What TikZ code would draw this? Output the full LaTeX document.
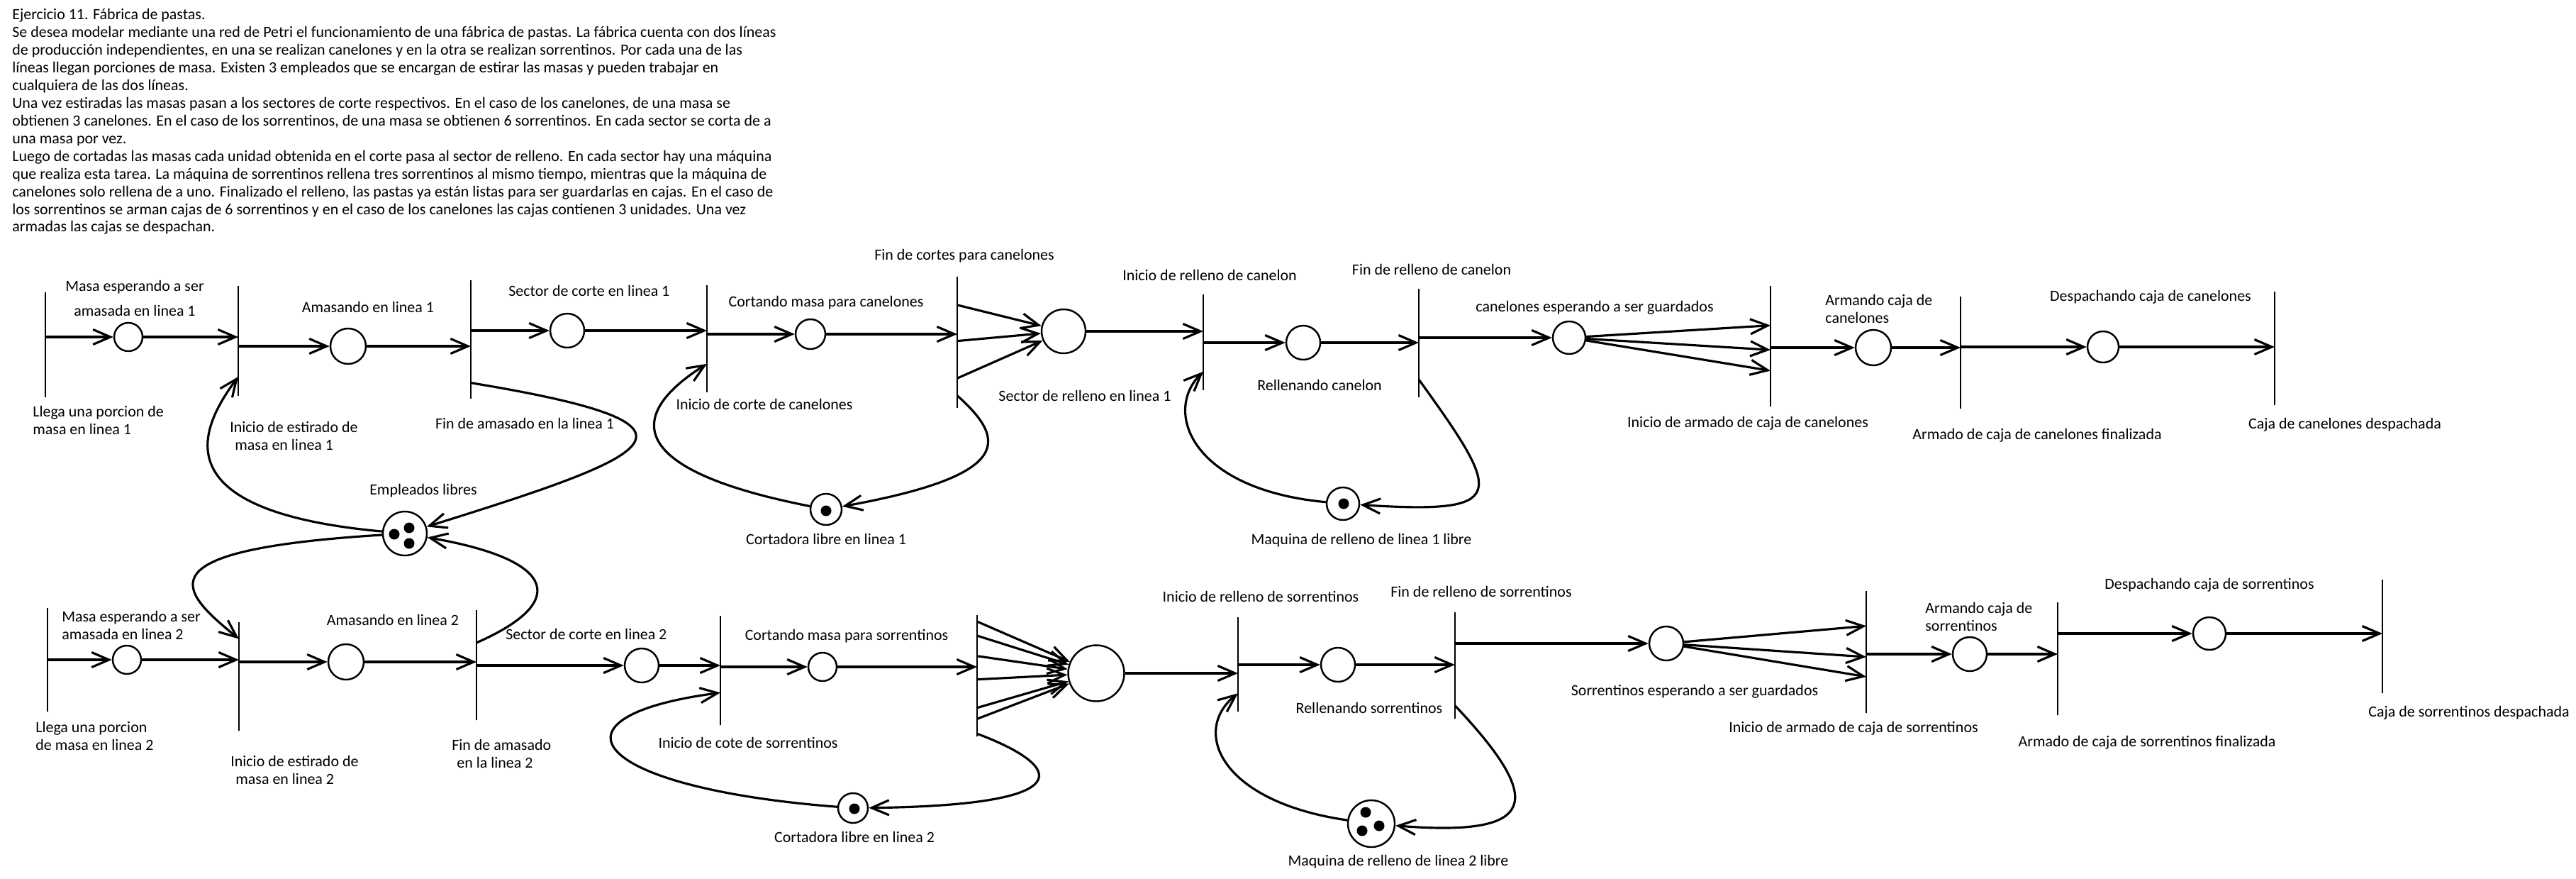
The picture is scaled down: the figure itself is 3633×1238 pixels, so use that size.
\documentclass[tikz,border=0pt]{standalone}
\usepackage{fontspec}
\setmainfont{Carlito}
\usetikzlibrary{arrows.meta,calc}
\tikzset{
  lugar/.style={draw,circle,line width=1.4pt,minimum size=#1,inner sep=0pt},
  trans/.style={draw,line width=1.6pt,minimum width=0pt,minimum height=#1,inner sep=0pt},
  flecha/.style={line width=1.8pt,-{Straight Barb[length=14pt,width=12pt]}},
  etiq/.style={inner sep=0pt,font=\fontsize{12.5}{14.2}\selectfont}
}
\newcommand{\ficha}[2]{\fill ($(#1)+(#2)$) circle [radius=0.15cm];}
\begin{document}
\begin{tikzpicture}[x=0.02cm,y=-0.02cm]
  \useasboundingbox (0,0) rectangle (3633,1238);
  \node [etiq,anchor=north west,align=left] (enunciado) at (17,12) {Ejercicio 11. Fábrica de pastas.\\
Se desea modelar mediante una red de Petri el funcionamiento de una fábrica de pastas. La fábrica cuenta con dos líneas\\
de producción independientes, en una se realizan canelones y en la otra se realizan sorrentinos. Por cada una de las\\
líneas llegan porciones de masa. Existen 3 empleados que se encargan de estirar las masas y pueden trabajar en\\
cualquiera de las dos líneas.\\
Una vez estiradas las masas pasan a los sectores de corte respectivos. En el caso de los canelones, de una masa se\\
obtienen 3 canelones. En el caso de los sorrentinos, de una masa se obtienen 6 sorrentinos. En cada sector se corta de a\\
una masa por vez.\\
Luego de cortadas las masas cada unidad obtenida en el corte pasa al sector de relleno. En cada sector hay una máquina\\
que realiza esta tarea. La máquina de sorrentinos rellena tres sorrentinos al mismo tiempo, mientras que la máquina de\\
canelones solo rellena de a uno. Finalizado el relleno, las pastas ya están listas para ser guardarlas en cajas. En el caso de\\
los sorrentinos se arman cajas de 6 sorrentinos y en el caso de los canelones las cajas contienen 3 unidades. Una vez\\
armadas las cajas se despachan.};

  \node [trans=2.96cm] (t1) at (64,486) {};
  \node [trans=3.1cm] (t2) at (336,480.5) {};
  \node [trans=3.34cm] (t3) at (664,478.5) {};
  \node [trans=3.02cm] (t4) at (997,477.5) {};
  \node [trans=3.7cm] (t5) at (1350,482.5) {};
  \node [trans=2.7cm] (t6) at (1697,482.5) {};
  \node [trans=3.06cm] (t7) at (2001,483.5) {};
  \node [trans=3.4cm] (t8) at (2497,488) {};
  \node [trans=3.16cm] (t9) at (2765,497) {};
  \node [trans=3.2cm] (t10) at (3208,491) {};
  \node [lugar=0.8cm] (p1) at (181,475) {};
  \node [lugar=1cm] (p2) at (491,488) {};
  \node [lugar=0.96cm] (p3) at (800,466) {};
  \node [lugar=0.84cm] (p4) at (1143,471) {};
  \node [lugar=1.24cm] (p5) at (1500,467) {};
  \node [lugar=0.96cm] (p6) at (1838,483) {};
  \node [lugar=0.92cm] (p7) at (2213,476) {};
  \node [lugar=1cm] (p8) at (2642,490) {};
  \node [lugar=0.88cm] (p9) at (2966,489) {};
  \node [lugar=1.24cm] (emp) at (571,752) {};
  \node [lugar=0.88cm] (cort1) at (1165,718) {};
  \node [lugar=0.92cm] (maq1) at (1894,710) {};

  \node [trans=2.92cm] (u1) at (67,930) {};
  \node [trans=3.06cm] (u2) at (337,953.5) {};
  \node [trans=3.1cm] (u3) at (672,937.5) {};
  \node [trans=3.08cm] (u4) at (1016,945) {};
  \node [trans=3.42cm] (u5) at (1378,952.5) {};
  \node [trans=2.66cm] (u6) at (1746,936.5) {};
  \node [trans=3cm] (u7) at (2052,938) {};
  \node [trans=3.44cm] (u8) at (2632,919) {};
  \node [trans=3.18cm] (u9) at (2902,928.5) {};
  \node [trans=3.2cm] (u10) at (3360,897) {};
  \node [lugar=0.8cm] (q1) at (179,930) {};
  \node [lugar=1cm] (q2) at (488,933) {};
  \node [lugar=0.96cm] (q3) at (905,938) {};
  \node [lugar=0.8cm] (q4) at (1160,940) {};
  \node [lugar=1.58cm] (q5) at (1546,949) {};
  \node [lugar=0.96cm] (q6) at (1887,937) {};
  \node [lugar=0.96cm] (q7) at (2350,907) {};
  \node [lugar=0.96cm] (q8) at (2778,922) {};
  \node [lugar=0.92cm] (q9) at (3116,893) {};
  \node [lugar=0.84cm] (cort2) at (1203,1139) {};
  \node [lugar=1.32cm] (maq2) at (1934,1161) {};

  \ficha{emp}{-15,1} \ficha{emp}{6,-8} \ficha{emp}{6,14}
  \ficha{cort1}{0,2} \ficha{maq1}{1,0} \ficha{cort2}{2,1}
  \ficha{maq2}{-8,-16} \ficha{maq2}{11,3} \ficha{maq2}{-13,10}

  \draw [flecha] (p1 -| t1) -- (p1);
  \draw [flecha] (p1) -- (p1 -| t2);
  \draw [flecha] (p2 -| t2) -- (p2);
  \draw [flecha] (p2) -- (p2 -| t3);
  \draw [flecha] (p3 -| t3) -- (p3);
  \draw [flecha] (p3) -- (p3 -| t4);
  \draw [flecha] (p4 -| t4) -- (p4);
  \draw [flecha] (p4) -- (p4 -| t5);
  \foreach \f in {.22,.49,.77} \draw [flecha] ($(t5.north)!\f!(t5.south)$) -- (p5);
  \draw [flecha] (p5) -- (p5 -| t6);
  \draw [flecha] (p6 -| t6) -- (p6);
  \draw [flecha] (p6) -- (p6 -| t7);
  \draw [flecha] (p7 -| t7) -- (p7);
  \foreach \f in {.33,.53,.7} \draw [flecha] (p7) -- ($(t8.north)!\f!(t8.south)$);
  \draw [flecha] (p8 -| t8) -- (p8);
  \draw [flecha] (p8) -- (p8 -| t9);
  \draw [flecha] (p9 -| t9) -- (p9);
  \draw [flecha] (p9) -- (p9 -| t10);

  \draw [flecha] (q1 -| u1) -- (q1);
  \draw [flecha] (q1) -- (q1 -| u2);
  \draw [flecha] (q2 -| u2) -- (q2);
  \draw [flecha] (q2) -- (q2 -| u3);
  \draw [flecha] (q3 -| u3) -- (q3);
  \draw [flecha] (q3) -- (q3 -| u4);
  \draw [flecha] (q4 -| u4) -- (q4);
  \draw [flecha] (q4) -- (q4 -| u5);
  \foreach \f in {.06,.175,.34,.53,.76,.85} \draw [flecha] ($(u5.north)!\f!(u5.south)$) -- (q5);
  \draw [flecha] (q5) -- (q5 -| u6);
  \draw [flecha] (q6 -| u6) -- (q6);
  \draw [flecha] (q6) -- (q6 -| u7);
  \draw [flecha] (q7 -| u7) -- (q7);
  \foreach \f in {.29,.54,.7} \draw [flecha] (q7) -- ($(u8.north)!\f!(u8.south)$);
  \draw [flecha] (q8 -| u8) -- (q8);
  \draw [flecha] (q8) -- (q8 -| u9);
  \draw [flecha] (q9 -| u9) -- (q9);
  \draw [flecha] (q9) -- (q9 -| u10);

  \draw [flecha] ($(t3.north)!.86!(t3.south)$) .. controls (1030,600) and (930,640) .. (emp);
  \draw [flecha] (emp) .. controls (220,720) and (285,600) .. ($(t2.north)!.82!(t2.south)$);
  \draw [flecha] (emp) .. controls (200,775) and (250,830) .. ($(u2.north)!.16!(u2.south)$);
  \draw [flecha] ($(u3.north)!.3!(u3.south)$) .. controls (800,850) and (790,790) .. (emp);
  \draw [flecha] ($(t5.north)!.9!(t5.south)$) .. controls (1420,620) and (1430,670) .. (cort1);
  \draw [flecha] (cort1) .. controls (870,660) and (890,580) .. ($(t4.north)!.73!(t4.south)$);
  \draw [flecha] ($(t7.north)!.83!(t7.south)$) .. controls (2120,700) and (2130,725) .. (maq1);
  \draw [flecha] (maq1) .. controls (1680,690) and (1640,580) .. ($(t6.north)!.8!(t6.south)$);
  \draw [flecha] ($(u5.north)!.97!(u5.south)$) .. controls (1500,1080) and (1530,1135) .. (cort2);
  \draw [flecha] (cort2) .. controls (830,1110) and (760,1010) .. ($(u4.north)!.7!(u4.south)$);
  \draw [flecha] ($(u7.north)!.87!(u7.south)$) .. controls (2180,1130) and (2170,1180) .. (maq2);
  \draw [flecha] (maq2) .. controls (1720,1130) and (1680,1030) .. ($(u6.north)!.8!(u6.south)$);

  \node [etiq,align=center] (lp1) at (190,420) {Masa esperando a ser\\[5.7pt]amasada en linea 1};
  \node [etiq] (lp2) at (519,433) {Amasando en linea 1};
  \node [etiq,anchor=west] (lp3) at (717,410) {Sector de corte en linea 1};
  \node [etiq] (lp4) at (1165,427) {Cortando masa para canelones};
  \node [etiq] (lt5) at (1360,361) {Fin de cortes para canelones};
  \node [etiq] (lt6) at (1706,388) {Inicio de relleno de canelon};
  \node [etiq] (lt7) at (2019,380) {Fin de relleno de canelon};
  \node [etiq] (lp7) at (2249,434) {canelones esperando a ser guardados};
  \node [etiq,anchor=west,align=left] (lp8) at (2574,435.5) {Armando caja de\\canelones};
  \node [etiq] (lp9) at (3033,419) {Despachando caja de canelones};
  \node [etiq,anchor=west,align=left] (lt1) at (46,592.5) {Llega una porcion de\\masa en linea 1};
  \node [etiq,anchor=west,align=left] (lt2) at (324,614.5) {Inicio de estirado de\\\hspace{4pt}masa en linea 1};
  \node [etiq] (lt3) at (740,597) {Fin de amasado en la linea 1};
  \node [etiq] (lt4) at (1078,570) {Inicio de corte de canelones};
  \node [etiq] (lp5) at (1530,558) {Sector de relleno en linea 1};
  \node [etiq] (lp6) at (1861,543) {Rellenando canelon};
  \node [etiq] (lt8) at (2465,597) {Inicio de armado de caja de canelones};
  \node [etiq] (lt9) at (2873,614) {Armado de caja de canelones finalizada};
  \node [etiq] (lt10) at (3307,599) {Caja de canelones despachada};
  \node [etiq] (lemp) at (597,692) {Empleados libres};
  \node [etiq] (lcort1) at (1165,760) {Cortadora libre en linea 1};
  \node [etiq] (lmaq1) at (1920,762) {Maquina de relleno de linea 1 libre};

  \node [etiq,anchor=west,align=left] (lq1) at (87,881.5) {Masa esperando a ser\\amasada en linea 2};
  \node [etiq] (lq2) at (554,874) {Amasando en linea 2};
  \node [etiq,anchor=west] (lq3) at (713,894) {Sector de corte en linea 2};
  \node [etiq] (lq4) at (1194,897) {Cortando masa para sorrentinos};
  \node [etiq] (lu6) at (1778,841) {Inicio de relleno de sorrentinos};
  \node [etiq] (lu7) at (2089,834) {Fin de relleno de sorrentinos};
  \node [etiq,anchor=west,align=left] (lq8) at (2715,869) {Armando caja de\\sorrentinos};
  \node [etiq] (lq9) at (3116,825) {Despachando caja de sorrentinos};
  \node [etiq,anchor=west,align=left] (lu1) at (50,1037) {Llega una porcion\\de masa en linea 2};
  \node [etiq,anchor=west,align=left] (lu2) at (325,1085.5) {Inicio de estirado de\\\hspace{4pt}masa en linea 2};
  \node [etiq,anchor=west,align=left] (lu3) at (637,1062.5) {Fin de amasado\\\hspace{4pt}en la linea 2};
  \node [etiq] (lu4) at (1055,1047) {Inicio de cote de sorrentinos};
  \node [etiq] (lq6) at (1931,998) {Rellenando sorrentinos};
  \node [etiq] (lq7) at (2390,975) {Sorrentinos esperando a ser guardados};
  \node [etiq] (lu8) at (2614,1027) {Inicio de armado de caja de sorrentinos};
  \node [etiq] (lu9) at (3028,1047) {Armado de caja de sorrentinos finalizada};
  \node [etiq,anchor=east] (lu10) at (3624,1005) {Caja de sorrentinos despachada};
  \node [etiq] (lcort2) at (1205,1180) {Cortadora libre en linea 2};
  \node [etiq] (lmaq2) at (1972,1215) {Maquina de relleno de linea 2 libre};
\end{tikzpicture}
\end{document}
